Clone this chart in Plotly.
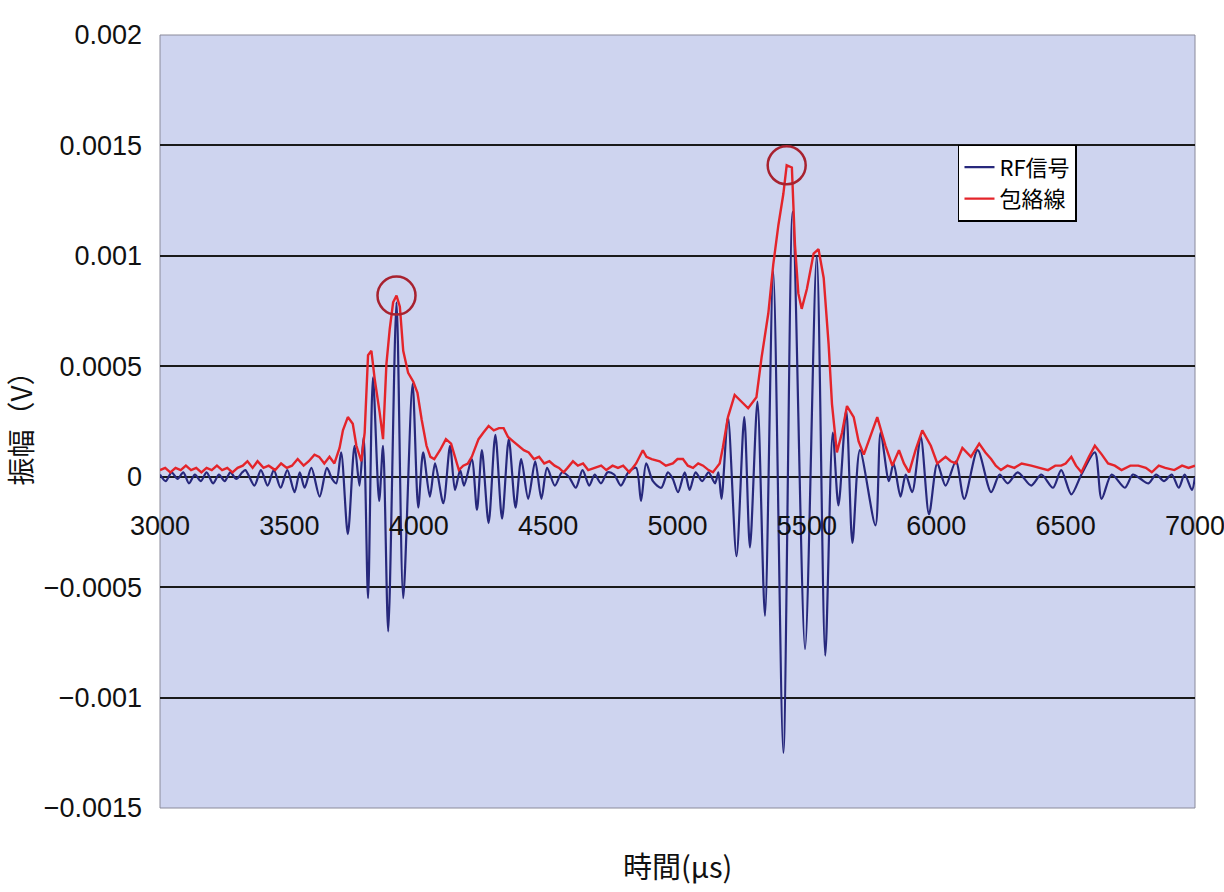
import plotly.graph_objects as go

# ---- data ----
rf_t = [3000, 3022, 3045, 3068, 3090, 3112, 3135, 3158, 3180, 3205, 3228, 3250, 3272, 3295,
        3318, 3330, 3365, 3390, 3416, 3440, 3466, 3492, 3520, 3540, 3559, 3585, 3617, 3645,
        3665, 3681, 3700, 3726, 3752, 3771, 3787, 3804, 3823, 3847, 3862, 3882, 3914, 3940,
        3976, 3998, 4017, 4043, 4063, 4095, 4121, 4140, 4160, 4175, 4205, 4225, 4244, 4270,
        4296, 4322, 4348, 4374, 4396, 4423, 4450, 4474, 4496, 4526, 4554, 4580, 4607, 4633,
        4659, 4680, 4704, 4730, 4755, 4781, 4810, 4840, 4859, 4879, 4905, 4937, 4963, 4982,
        5002, 5028, 5047, 5070, 5095, 5120, 5145, 5158, 5170, 5195, 5228, 5258, 5280, 5309,
        5338, 5370, 5409, 5445, 5493, 5538, 5571, 5600, 5622, 5652, 5676, 5705, 5765, 5785,
        5817, 5835, 5862, 5882, 5907, 5940, 5972, 6004, 6036, 6076, 6108, 6160, 6212, 6245,
        6276, 6315, 6367, 6406, 6451, 6483, 6522, 6561, 6613, 6639, 6678, 6729, 6760, 6790,
        6820, 6850, 6880, 6910, 6937, 6960, 6988, 7000]
rf_v = [0.00001, -0.00002, 0.00002, -0.00001, 0.00002, -0.00003, 0.00001, -0.00002, 0.00002,
        -0.00003, 0.00001, -0.00002, 0.00002, -0.00001, 0.00002, 0.00003, -0.00004, 0.00003,
        -0.00004, 0.00003, -0.00005, 0.00003, -0.00007, 0.00002, -0.00005, 0.00004, -0.00009,
        0.00004, -0.00001, -0.00003, 0.00011, -0.00026, 0.00014, -0.00004, 0.00018, -0.00055,
        0.00045, -0.00011, 0.00014, -0.0007, 0.00079, -0.00055, 0.00042, -0.00014, 0.00011,
        -0.00009, 0.00006, -0.00012, 0.00014, -0.00006, 0.00003, -0.00004, 0.00008, -0.00015,
        0.00012, -0.00021, 0.00019, -0.00019, 0.00017, -0.00014, 0.00008, -0.0001, 0.00007,
        -0.0001, 0.00004, -0.00004, 0.00002, 0.0, -0.00005, 0.00003, -0.00004, 0.00001,
        -0.00003, 0.00002, 0.00001, -0.00004, 0.00002, 0.00004, -0.00011, 0.00006, -0.00002,
        -0.00005, 0.00002, -0.00001, -0.00007, 0.00002, -0.00006, 0.00002, -0.00002, 0.00002,
        -0.00003, 0.00002, -0.0001, 0.00027, -0.00036, 0.00027, -0.00032, 0.00034, -0.00063,
        0.00093, -0.00125, 0.0012, -0.00078, 0.001, -0.00081, 0.0002, -0.00013, 0.0003,
        -0.0003, 0.00012, -0.00022, 0.0002, -0.00002, 0.00006, -0.00009, 0.00001, -0.00007,
        0.00018, -0.00017, 0.00006, -0.00004, 0.00007, -0.0001, 0.00012, -0.00007, 0.00001,
        -0.00003, 0.00002, -0.00004, 0.00001, -0.00005, 0.00003, -0.00008, 0.00001, 0.00011,
        -0.0001, 0.00001, -0.00005, 0.00001, -0.00001, -0.00003, 0.00001, -0.00002, 0.00001,
        -0.00005, 0.00001, -0.00006, 0.0]

env_t = [3000, 3020, 3040, 3060, 3080, 3100, 3120, 3140, 3160, 3180, 3200, 3220, 3240, 3260,
         3280, 3300, 3320, 3338, 3358, 3377, 3400, 3420, 3445, 3468, 3490, 3510, 3532, 3555,
         3575, 3597, 3615, 3635, 3655, 3674, 3694, 3707, 3726, 3745, 3759, 3778, 3791, 3804,
         3817, 3830, 3849, 3862, 3875, 3888, 3901, 3914, 3927, 3940, 3959, 3979, 3995, 4011,
         4030, 4045, 4060, 4082, 4105, 4125, 4140, 4155, 4172, 4190, 4205, 4231, 4250, 4270,
         4290, 4310, 4328, 4345, 4365, 4385, 4406, 4425, 4445, 4465, 4485, 4505, 4525, 4542,
         4560, 4575, 4596, 4615, 4635, 4655, 4684, 4705, 4725, 4749, 4770, 4790, 4814, 4840,
         4866, 4880, 4900, 4931, 4955, 4982, 5000, 5021, 5040, 5060, 5080, 5099, 5120, 5137,
         5150, 5163, 5175, 5195, 5221, 5247, 5273, 5305, 5325, 5351, 5370, 5390, 5409, 5422,
         5442, 5454, 5467, 5480, 5500, 5526, 5545, 5565, 5584, 5597, 5616, 5636, 5655, 5681,
         5700, 5720, 5745, 5772, 5804, 5830, 5856, 5875, 5895, 5920, 5946, 5979, 6004, 6036,
         6056, 6076, 6101, 6134, 6166, 6190, 6212, 6230, 6250, 6275, 6302, 6330, 6367, 6400,
         6432, 6460, 6483, 6500, 6522, 6540, 6561, 6590, 6613, 6640, 6664, 6690, 6716, 6750,
         6781, 6810, 6833, 6860, 6885, 6920, 6950, 6975, 7000]
env_v = [0.00003, 0.00004, 0.00002, 0.00004, 0.00003, 0.00005, 0.00003, 0.00004, 0.00002,
         0.00004, 0.00003, 0.00005, 0.00003, 0.00004, 0.00002, 0.00004, 0.00005, 0.00007,
         0.00004, 0.00007, 0.00004, 0.00005, 0.00003, 0.00006, 0.00004, 0.00005, 0.00008,
         0.00005, 0.00007, 0.0001, 0.00009, 0.00006, 0.00009, 0.00006, 0.00013, 0.00021,
         0.00027, 0.00024, 0.00014, 0.00007, 0.0002, 0.00055, 0.00057, 0.00044, 0.00029,
         0.00017, 0.00051, 0.00067, 0.00079, 0.00082, 0.00077, 0.00057, 0.00047, 0.00043,
         0.00038, 0.00026, 0.00014, 0.00009, 0.00008, 0.00012, 0.00017, 0.00015, 0.00009,
         0.00003, 0.00005, 0.00006, 0.00009, 0.00017, 0.0002, 0.00023, 0.00021, 0.00022,
         0.00022, 0.00018, 0.00016, 0.00014, 0.00012, 0.00011, 0.00008, 0.00009, 0.00006,
         0.00007, 0.00005, 0.00004, 0.00002, 0.00004, 0.00007, 0.00005, 0.00006, 0.00003,
         0.00004, 0.00005, 0.00003, 0.00005, 0.00004, 0.00005, 0.00002, 0.00006, 0.00012,
         0.00009, 0.00008, 0.00007, 0.00005, 0.00006, 0.00008, 0.00008, 0.00005, 0.00004,
         0.00006, 0.00005, 0.00003, 0.00002, 0.00004, 0.00006, 0.00013, 0.00027, 0.00037,
         0.00034, 0.00031, 0.00036, 0.00054, 0.00074, 0.00096, 0.00114, 0.00128, 0.00141,
         0.0014, 0.00105, 0.00083, 0.00076, 0.00085, 0.00101, 0.00103, 0.0009, 0.0006,
         0.00033, 0.00011, 0.0002, 0.00032, 0.00027, 0.00016, 0.0001, 0.00018, 0.00027,
         0.00014, 0.00005, 0.00012, 0.00006, 0.00002, 0.00012, 0.00021, 0.00014, 0.00006,
         0.00009, 0.00007, 0.00006, 0.00013, 0.00009, 0.00015, 0.00011, 0.00008, 0.00005,
         0.00003, 0.00005, 0.00004, 0.00006, 0.00005, 0.00004, 0.00003, 0.00005, 0.00005,
         0.00006, 0.00009, 0.00005, 0.00002, 0.00009, 0.00014, 0.0001, 0.00006, 0.00005,
         0.00003, 0.00005, 0.00005, 0.00004, 0.00002, 0.00005, 0.00004, 0.00003, 0.00005,
         0.00004, 0.00005]

x_ticks = [3000, 3500, 4000, 4500, 5000, 5500, 6000, 6500, 7000]
y_ticks = [-0.0015, -0.001, -0.0005, 0, 0.0005, 0.001, 0.0015, 0.002]
y_tick_text = ["−0.0015", "−0.001", "−0.0005", "0", "0.0005", "0.001", "0.0015", "0.002"]
series_names = ["RF信号", "包絡線"]

x_range = [3000, 7000]
y_range = [-0.0015, 0.002]

fig = go.Figure()
fig.add_trace(go.Scatter(x=rf_t, y=rf_v, mode="lines", name=series_names[0],
                         line=dict(color="#27287c", width=2.2, shape="spline", smoothing=0.8)))
fig.add_trace(go.Scatter(x=env_t, y=env_v, mode="lines", name=series_names[1],
                         line=dict(color="#e4242a", width=2.4)))

# circles marking the envelope peaks of each echo
split = 4600
for lo, hi in [(x_range[0], split), (split, x_range[1])]:
    idx = [i for i, t in enumerate(env_t) if lo <= t < hi]
    k = max(idx, key=lambda i: env_v[i])
    fig.add_shape(type="circle", xref="x", yref="y", xsizemode="pixel", ysizemode="pixel",
                  xanchor=env_t[k], yanchor=env_v[k], x0=-19, x1=19, y0=-19, y1=19,
                  line=dict(color="#a8222f", width=2.5))

# plot frame
fig.add_shape(type="rect", xref="x domain", yref="y domain", x0=0, x1=1, y0=0, y1=1,
              line=dict(color="#8a8a9a", width=1), layer="below")

zero_pos = (0 - y_range[0]) / (y_range[1] - y_range[0])

fig.update_layout(
    width=1224, height=892,
    margin=dict(l=160, r=29, t=35, b=84, autoexpand=False),
    paper_bgcolor="white",
    plot_bgcolor="#ced4ef",
    showlegend=True,
    legend=dict(x=0.771, y=0.858, xanchor="left", yanchor="top",
                bgcolor="white", bordercolor="black", borderwidth=1.5,
                font=dict(family="Noto Sans CJK JP", size=22, color="black"),
                itemwidth=30, tracegroupgap=0),
    xaxis=dict(range=x_range, tickvals=x_ticks, ticktext=[str(v) for v in x_ticks],
               anchor="free", position=zero_pos, showgrid=False, zeroline=False,
               showline=False, ticks="", ticklabelstandoff=30, ticklabeloverflow="allow",
               automargin=False,
               tickfont=dict(family="Liberation Sans", size=27, color="#111111")),
    yaxis=dict(range=y_range, tickvals=y_ticks, ticktext=y_tick_text,
               showgrid=True, gridcolor="#1a1a1a", gridwidth=1.6, automargin=False,
               zeroline=False, showline=False, ticks="", ticklabelstandoff=17,
               tickfont=dict(family="Liberation Sans", size=27, color="#111111"),
               title=dict(text="振幅（V）", standoff=12,
                          font=dict(family="Noto Sans CJK JP", size=28, color="#111111"))),
    annotations=[dict(text="時間(μs)", xref="paper", yref="paper", x=0.5, y=-0.074,
                      xanchor="center", yanchor="middle", showarrow=False,
                      font=dict(family="Noto Sans CJK JP", size=29, color="#111111"))],
)

fig.write_html("out.html", config={"displayModeBar": False},
               post_script="document.body.style.margin='0';")
